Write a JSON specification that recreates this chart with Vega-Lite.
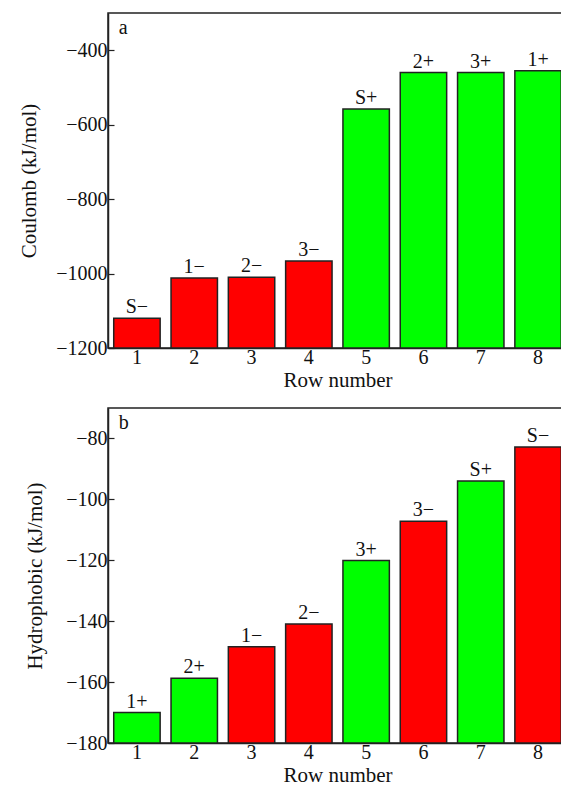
{
  "$schema": "https://vega.github.io/schema/vega-lite/v6.json",
  "background": "white",
  "padding": {"left": 17, "top": 12, "right": 0, "bottom": 5},
  "bounds": "flush",
  "spacing": 60,
  "config": {
    "font": "Liberation Serif",
    "view": {"stroke": "#222222", "strokeWidth": 1.5},
    "axis": {
      "grid": false,
      "labelFont": "Liberation Serif",
      "labelFontSize": 20,
      "labelColor": "#111111",
      "titleFont": "Liberation Serif",
      "titleFontSize": 21,
      "titleFontWeight": "normal",
      "titleColor": "#111111",
      "domainColor": "#222222",
      "domainWidth": 1.5,
      "tickColor": "#222222",
      "tickWidth": 1.2,
      "tickSize": -6
    },
    "text": {"font": "Liberation Serif", "fontSize": 20, "color": "#111111"}
  },
  "vconcat": [
    {
      "width": 459,
      "height": 335,
      "data": {"values": [
        {"row": 1, "label": "S−", "charge": "neg", "value": -1120},
        {"row": 2, "label": "1−", "charge": "neg", "value": -1012},
        {"row": 3, "label": "2−", "charge": "neg", "value": -1010},
        {"row": 4, "label": "3−", "charge": "neg", "value": -966},
        {"row": 5, "label": "S+", "charge": "pos", "value": -558},
        {"row": 6, "label": "2+", "charge": "pos", "value": -460},
        {"row": 7, "label": "3+", "charge": "pos", "value": -460},
        {"row": 8, "label": "1+", "charge": "pos", "value": -455}
      ]},
      "encoding": {
        "x": {"field": "row", "type": "ordinal",
              "scale": {"paddingInner": 0.19, "paddingOuter": 0.1},
              "axis": {"title": "Row number", "labelAngle": 0, "labelPadding": 5, "titlePadding": 2}},
        "y": {"field": "value", "type": "quantitative",
              "scale": {"domain": [-1200, -300], "nice": false, "zero": false},
              "axis": {"title": "Coulomb (kJ/mol)", "values": [-1200, -1000, -800, -600, -400], "format": "d", "labelPadding": 7, "titlePadding": 16}}
      },
      "layer": [
        {
          "mark": {"type": "bar", "stroke": "#222222", "strokeWidth": 1.5},
          "encoding": {
            "y2": {"datum": -1200},
            "color": {"field": "charge", "type": "nominal",
                      "scale": {"domain": ["neg", "pos"], "range": ["#ff0000", "#00ff00"]},
                      "legend": null}
          }
        },
        {
          "mark": {"type": "text", "baseline": "bottom", "dy": -1},
          "encoding": {"text": {"field": "label"}}
        },
        {
          "data": {"values": [{"panel": "a", "row": 1, "value": -357}]},
          "mark": {"type": "text", "align": "left", "baseline": "alphabetic", "dx": 5},
          "encoding": {
            "x": {"field": "row", "type": "ordinal", "bandPosition": 0},
            "text": {"field": "panel"}
          }
        }
      ]
    },
    {
      "width": 459,
      "height": 335,
      "data": {"values": [
        {"row": 1, "label": "1+", "charge": "pos", "value": -170},
        {"row": 2, "label": "2+", "charge": "pos", "value": -158.7},
        {"row": 3, "label": "1−", "charge": "neg", "value": -148.4},
        {"row": 4, "label": "2−", "charge": "neg", "value": -140.9},
        {"row": 5, "label": "3+", "charge": "pos", "value": -120.1},
        {"row": 6, "label": "3−", "charge": "neg", "value": -107.2},
        {"row": 7, "label": "S+", "charge": "pos", "value": -94},
        {"row": 8, "label": "S−", "charge": "neg", "value": -82.8}
      ]},
      "encoding": {
        "x": {"field": "row", "type": "ordinal",
              "scale": {"paddingInner": 0.19, "paddingOuter": 0.1},
              "axis": {"title": "Row number", "labelAngle": 0, "labelPadding": 5, "titlePadding": 2}},
        "y": {"field": "value", "type": "quantitative",
              "scale": {"domain": [-180, -70], "nice": false, "zero": false},
              "axis": {"title": "Hydrophobic (kJ/mol)", "values": [-180, -160, -140, -120, -100, -80], "format": "d", "labelPadding": 7, "titlePadding": 20}}
      },
      "layer": [
        {
          "mark": {"type": "bar", "stroke": "#222222", "strokeWidth": 1.5},
          "encoding": {
            "y2": {"datum": -180},
            "color": {"field": "charge", "type": "nominal",
                      "scale": {"domain": ["neg", "pos"], "range": ["#ff0000", "#00ff00"]},
                      "legend": null}
          }
        },
        {
          "mark": {"type": "text", "baseline": "bottom", "dy": -1},
          "encoding": {"text": {"field": "label"}}
        },
        {
          "data": {"values": [{"panel": "b", "row": 1, "value": -77}]},
          "mark": {"type": "text", "align": "left", "baseline": "alphabetic", "dx": 5},
          "encoding": {
            "x": {"field": "row", "type": "ordinal", "bandPosition": 0},
            "text": {"field": "panel"}
          }
        }
      ]
    }
  ]
}
